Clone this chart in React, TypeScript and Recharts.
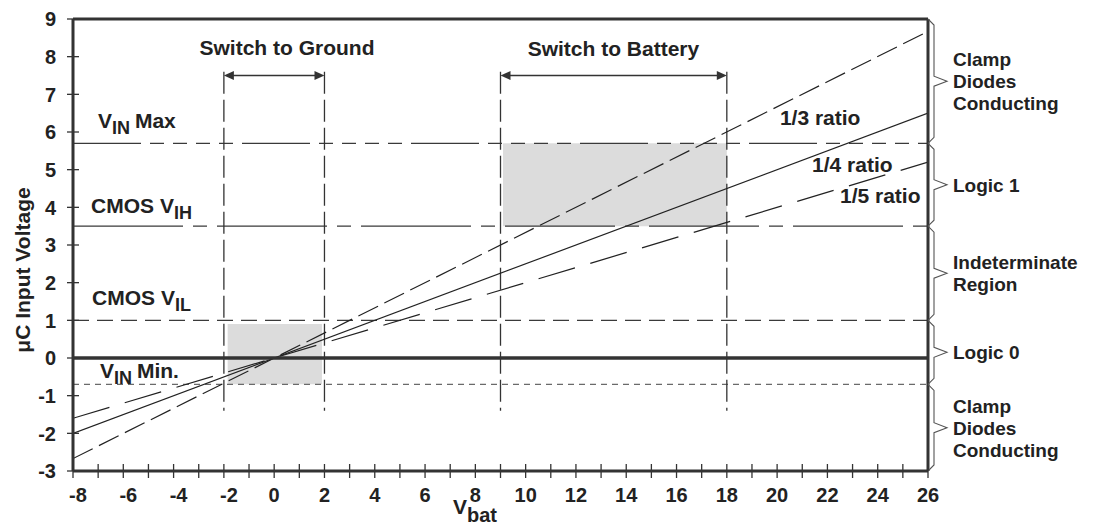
import React from 'react';
import {
  ComposedChart,
  Line,
  XAxis,
  YAxis,
  ReferenceLine,
  ReferenceArea,
  ReferenceDot,
} from 'recharts';

// ---------- data ----------
const vbat = [-8, 26];
const ratioThird = [-2.67, 8.67];
const ratioQuarter = [-2, 6.5];
const ratioFifth = [-1.6, 5.2];

const xTicks = [-8, -7, -6, -5, -4, -3, -2, -1, 0, 1, 2, 3, 4, 5, 6, 7, 8, 9, 10, 11, 12, 13, 14, 15, 16, 17, 18, 19, 20, 21, 22, 23, 24, 25, 26];
const xTickLabels = [-8, -6, -4, -2, 0, 2, 4, 6, 8, 10, 12, 14, 16, 18, 20, 22, 24, 26];
const yTicks = [-3, -2, -1, 0, 1, 2, 3, 4, 5, 6, 7, 8, 9];

const vinMax = 5.7;
const cmosVih = 3.5;
const cmosVil = 1.0;
const vinMin = -0.7;
const groundLevel = 0;

const switchGround = [-2, 2];
const switchBattery = [9, 18];
const switchLineSpan = [7.6, -1.4];
const arrowLevel = 7.5;

const shadeGroundX = [-1.85, 1.9];
const shadeGroundY = [-0.7, 0.9];
const shadeBatteryX = [9.1, 18];
const shadeBatteryY = [3.5, 5.7];

const braceBounds = [9, 5.7, 3.5, 1.0, -0.7, -3];
const braceLabels = [
  ['Clamp', 'Diodes', 'Conducting'],
  ['Logic 1'],
  ['Indeterminate', 'Region'],
  ['Logic 0'],
  ['Clamp', 'Diodes', 'Conducting'],
];

const data = vbat.map((v, i) => ({
  v,
  third: ratioThird[i],
  quarter: ratioQuarter[i],
  fifth: ratioFifth[i],
}));

// ---------- style ----------
const FONT = '"Liberation Sans", Arial, Helvetica, sans-serif';
const INK = '#222222';
const LINE = '#333333';

const RichText = ({ x, y, main, sub, tail, anchor = 'start' }: any) => (
  <text x={x} y={y} fontFamily={FONT} fontWeight="bold" fontSize={21} fill={INK} textAnchor={anchor}>
    <tspan>{main}</tspan>
    {sub ? (
      <tspan dy={6} fontSize={18}>
        {sub}
      </tspan>
    ) : null}
    {tail ? (
      <tspan dy={sub ? -6 : 0} dx={5}>
        {tail}
      </tspan>
    ) : null}
  </text>
);

const textShape = (main: string, sub?: string, tail?: string, anchor = 'start') => (p: any) => (
  <RichText x={p.cx} y={p.cy} main={main} sub={sub} tail={tail} anchor={anchor} />
);

const XTick = (p: any) => {
  const { x, y, payload } = p;
  const v = payload.value;
  const show = xTickLabels.includes(v);
  return (
    <g>
      <line x1={x} y1={y - 7} x2={x} y2={y + 7} stroke={LINE} strokeWidth={1.3} />
      {show ? (
        <text x={x + (v < 0 ? 5 : 0)} y={y + 31} textAnchor="middle" fontFamily={FONT} fontWeight="bold" fontSize={20} fill={INK}>
          {v}
        </text>
      ) : null}
    </g>
  );
};

const YTick = (p: any) => {
  const { x, y, payload } = p;
  return (
    <g>
      <line x1={x - 6} y1={y} x2={x + 6} y2={y} stroke={LINE} strokeWidth={1.3} />
      <text x={x - 17} y={y} dy="0.36em" textAnchor="end" fontFamily={FONT} fontWeight="bold" fontSize={20} fill={INK}>
        {payload.value}
      </text>
    </g>
  );
};

const ArrowShape = (p: any) => {
  const { x1, y1, x2 } = p;
  const y = y1;
  return (
    <g>
      <line x1={x1 + 6} y1={y} x2={x2 - 6} y2={y} stroke={LINE} strokeWidth={1.4} />
      <polygon points={`${x1},${y} ${x1 + 10},${y - 4.5} ${x1 + 10},${y + 4.5}`} fill={LINE} />
      <polygon points={`${x2},${y} ${x2 - 10},${y - 4.5} ${x2 - 10},${y + 4.5}`} fill={LINE} />
    </g>
  );
};

const braceShape = (lines: string[]) => (p: any) => {
  const { x1, y1, y2 } = p;
  const top = Math.min(y1, y2);
  const bot = Math.max(y1, y2);
  const mid = (top + bot) / 2;
  const bx = x1 + 6;
  const tip = x1 + 19;
  const d = `M${x1},${top} L${bx},${top + 6} L${bx},${mid - 5} L${tip},${mid} L${bx},${mid + 5} L${bx},${bot - 6} L${x1},${bot}`;
  const n = lines.length;
  return (
    <g>
      <path d={d} fill="none" stroke="#555" strokeWidth={1.1} />
      <text fontFamily={FONT} fontWeight="bold" fontSize={19} fill={INK}>
        {lines.map((t, i) => (
          <tspan key={i} x={x1 + 25} y={mid + 7 + (i - (n - 1) / 2) * 22}>
            {t}
          </tspan>
        ))}
      </text>
    </g>
  );
};

const YLabel = (p: any) => {
  const vb = p.viewBox || { x: 0, y: 19, width: 73, height: 452 };
  const cx = vb.x + 22;
  const cy = vb.y + vb.height / 2 + 25;
  return (
    <text
      x={cx}
      y={cy}
      transform={`rotate(-90, ${cx}, ${cy})`}
      textAnchor="middle"
      dominantBaseline="central"
      fontFamily={FONT}
      fontWeight="bold"
      fontSize={21}
      fill={INK}
    >
      μC Input Voltage
    </text>
  );
};

const XLabel = (p: any) => {
  const vb = p.viewBox || { x: 73, y: 471, width: 855, height: 58 };
  return (
    <text x={vb.x + 380} y={vb.y + 43} fontFamily={FONT} fontWeight="bold" fontSize={21} fill={INK}>
      <tspan>V</tspan>
      <tspan dy={8} fontSize={20}>
        bat
      </tspan>
    </text>
  );
};

export default function App() {
  return (
    <div style={{ position: 'absolute', left: 0, top: 0, width: 1095, height: 529, overflow: 'hidden', background: '#fff' }}>
      <ComposedChart width={1095} height={529} data={data} margin={{ top: 19, right: 167, bottom: 0, left: 0 }}>
        <XAxis
          dataKey="v"
          type="number"
          domain={[-8, 26]}
          allowDataOverflow
          ticks={xTicks}
          interval={0}
          tickSize={0}
          tickMargin={0}
          tickLine={false}
          tick={(p: any) => <XTick {...p} />}
          axisLine={{ stroke: LINE, strokeWidth: 3 }}
          height={58}
          label={{ content: (p: any) => <XLabel {...p} /> }}
        />
        <YAxis
          type="number"
          domain={[-3, 9]}
          allowDataOverflow
          ticks={yTicks}
          interval={0}
          tickSize={0}
          tickMargin={0}
          tickLine={false}
          tick={(p: any) => <YTick {...p} />}
          axisLine={{ stroke: LINE, strokeWidth: 3 }}
          width={73}
          label={{ content: (p: any) => <YLabel {...p} /> }}
        />

        <ReferenceArea x1={shadeGroundX[0]} x2={shadeGroundX[1]} y1={shadeGroundY[0]} y2={shadeGroundY[1]} fill="#dcdcdc" fillOpacity={1} stroke="none" />
        <ReferenceArea x1={shadeBatteryX[0]} x2={shadeBatteryX[1]} y1={shadeBatteryY[0]} y2={shadeBatteryY[1]} fill="#dcdcdc" fillOpacity={1} stroke="none" />

        <ReferenceLine y={vinMax} stroke="#3a3a3a" strokeWidth={1.3} strokeDasharray="68 9 14 9 14 9 14 9 14 9" />
        <ReferenceLine y={cmosVih} stroke="#3a3a3a" strokeWidth={1.3} strokeDasharray="110 10 14 10" />
        <ReferenceLine y={cmosVil} stroke="#3a3a3a" strokeWidth={1.3} strokeDasharray="16 8" />
        <ReferenceLine y={vinMin} stroke="#6a6a6a" strokeWidth={1.3} strokeDasharray="6 5" />

        {[...switchGround, ...switchBattery].map((xv) => (
          <ReferenceLine
            key={`sw${xv}`}
            segment={[
              { x: xv, y: switchLineSpan[0] },
              { x: xv, y: switchLineSpan[1] },
            ]}
            stroke="#333"
            strokeWidth={1.3}
            strokeDasharray="22 6"
          />
        ))}

        <ReferenceLine
          segment={[
            { x: switchGround[0], y: arrowLevel },
            { x: switchGround[1], y: arrowLevel },
          ]}
          shape={(p: any) => <ArrowShape {...p} />}
        />
        <ReferenceLine
          segment={[
            { x: switchBattery[0], y: arrowLevel },
            { x: switchBattery[1], y: arrowLevel },
          ]}
          shape={(p: any) => <ArrowShape {...p} />}
        />

        <Line type="linear" dataKey="third" stroke="#222" strokeWidth={1.2} strokeDasharray="22 7" dot={false} activeDot={false} isAnimationActive={false} />
        <Line type="linear" dataKey="quarter" stroke="#222" strokeWidth={1.2} dot={false} activeDot={false} isAnimationActive={false} />
        <Line type="linear" dataKey="fifth" stroke="#222" strokeWidth={1.2} strokeDasharray="38 16" dot={false} activeDot={false} isAnimationActive={false} />

        <ReferenceLine y={groundLevel} stroke={LINE} strokeWidth={3.5} />
        <ReferenceLine y={9} stroke={LINE} strokeWidth={3} ifOverflow="visible" />
        <ReferenceLine x={26} stroke={LINE} strokeWidth={3} ifOverflow="visible" />

        {braceLabels.map((lines, i) => (
          <ReferenceLine
            key={`br${i}`}
            ifOverflow="visible"
            segment={[
              { x: 26, y: braceBounds[i] },
              { x: 26, y: braceBounds[i + 1] },
            ]}
            shape={braceShape(lines)}
          />
        ))}

        <ReferenceDot x={0.51} y={8.04} r={0} shape={textShape('Switch to Ground', undefined, undefined, 'middle')} />
        <ReferenceDot x={13.49} y={8.02} r={0} shape={textShape('Switch to Battery', undefined, undefined, 'middle')} />
        <ReferenceDot x={-7.01} y={6.11} r={0} shape={textShape('V', 'IN', 'Max')} />
        <ReferenceDot x={-7.28} y={3.85} r={0} shape={textShape('CMOS V', 'IH')} />
        <ReferenceDot x={-7.24} y={1.41} r={0} shape={textShape('CMOS V', 'IL')} />
        <ReferenceDot x={-6.93} y={-0.53} r={0} shape={textShape('V', 'IN', 'Min.')} />
        <ReferenceDot x={20.11} y={6.19} r={0} shape={textShape('1/3 ratio')} />
        <ReferenceDot x={21.39} y={4.95} r={0} shape={textShape('1/4 ratio')} />
        <ReferenceDot x={22.5} y={4.11} r={0} shape={textShape('1/5 ratio')} />
      </ComposedChart>
    </div>
  );
}
